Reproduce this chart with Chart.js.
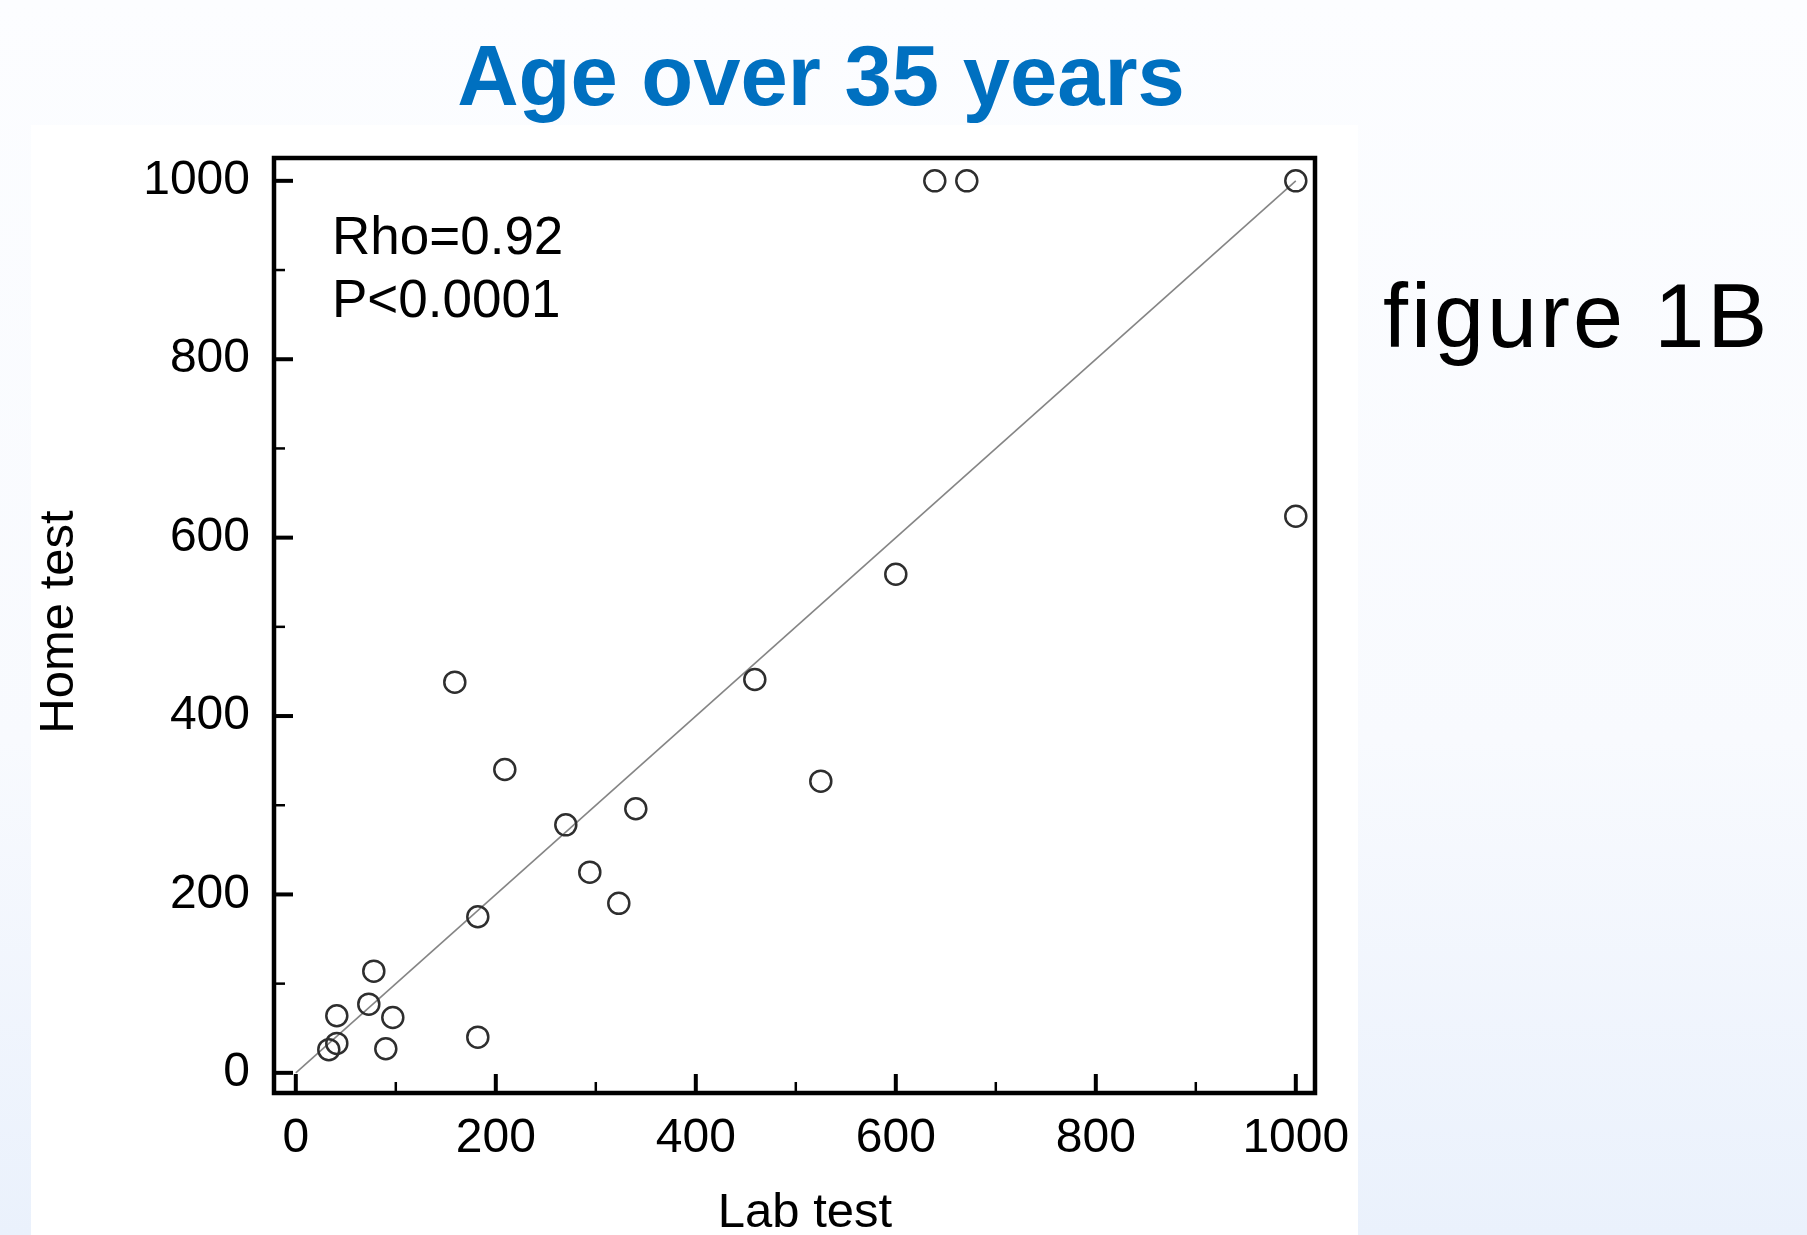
<!DOCTYPE html>
<html>
<head>
<meta charset="utf-8">
<title>Age over 35 years</title>
<script src="https://cdn.jsdelivr.net/npm/chart.js@4.4.1/dist/chart.umd.min.js"></script>
<style>
  html, body { margin: 0; padding: 0; }
  body { width: 1807px; height: 1235px; overflow: hidden; background: #fcfdff; }
  #wrap { position: relative; width: 1807px; height: 1235px; }
</style>
</head>
<body>
<div id="wrap"><canvas id="chart" width="1807" height="1235"></canvas></div>
<script>
const FONT = '"Liberation Sans", Arial, Helvetica, sans-serif';

// one entry per subject: lab result (x) and home result (y)
const labTest  = [639, 671, 1000, 1000, 600, 459, 159, 209, 525, 270, 340, 294, 323, 182, 78, 73, 41, 97, 41, 33, 90, 182];
const homeTest = [1000, 1000, 1000, 624, 559, 441, 438, 340, 327, 278, 296, 225, 190, 175, 114, 77, 64, 62, 33, 26, 27, 40];

// line of identity
const fitX = [0, 1000];
const fitY = [0, 1000];

const majorTicks = [0, 200, 400, 600, 800, 1000];
const minorTicks = [100, 300, 500, 700, 900];

const chartTitle = 'Age over 35 years';
const figureLabel = 'figure 1B';
const statsLines = ['Rho=0.92', 'P<0.0001'];
const xTitle = 'Lab test';
const yTitle = 'Home test';

// background, panel, titles, frame and inward ticks
const decor = {
  id: 'decor',
  beforeDraw(chart) {
    const ctx = chart.ctx;
    ctx.save();
    const g = ctx.createLinearGradient(0, 0, 0, chart.height);
    g.addColorStop(0, '#fcfdff');
    g.addColorStop(0.6, '#f8fafe');
    g.addColorStop(1, '#eaf1fc');
    ctx.fillStyle = g;
    ctx.fillRect(0, 0, chart.width, chart.height);
    ctx.fillStyle = '#ffffff';
    ctx.fillRect(31, 125, 1327, chart.height - 125);

    ctx.fillStyle = '#0070c0';
    ctx.font = 'bold 85px ' + FONT;
    ctx.textAlign = 'center';
    ctx.textBaseline = 'alphabetic';
    ctx.fillText(chartTitle, 821, 105);

    ctx.fillStyle = '#000';
    ctx.font = '90px ' + FONT;
    ctx.textAlign = 'left';
    ctx.letterSpacing = '3px';
    ctx.fillText(figureLabel, 1383, 347);
    ctx.letterSpacing = '0px';
    ctx.restore();
  },
  afterDraw(chart) {
    const ctx = chart.ctx;
    const a = chart.chartArea;
    const xs = chart.scales.x, ys = chart.scales.y;
    ctx.save();
    ctx.strokeStyle = '#000';
    ctx.lineWidth = 4.5;
    ctx.strokeRect(a.left, a.top, a.right - a.left, a.bottom - a.top);

    function tick(x1, y1, x2, y2, w) {
      ctx.lineWidth = w;
      ctx.beginPath(); ctx.moveTo(x1, y1); ctx.lineTo(x2, y2); ctx.stroke();
    }
    majorTicks.forEach(v => {
      const px = xs.getPixelForValue(v);
      tick(px, a.bottom, px, a.bottom - 19, 4);
      const py = ys.getPixelForValue(v);
      tick(a.left, py, a.left + 19, py, 4);
    });
    minorTicks.forEach(v => {
      const px = xs.getPixelForValue(v);
      tick(px, a.bottom, px, a.bottom - 11, 2.5);
      const py = ys.getPixelForValue(v);
      tick(a.left, py, a.left + 11, py, 2.5);
    });

    ctx.fillStyle = '#000';
    ctx.font = '53px ' + FONT;
    ctx.textAlign = 'left';
    ctx.textBaseline = 'alphabetic';
    ctx.fillText(statsLines[0], 332, 254);
    ctx.fillText(statsLines[1], 332, 317);

    ctx.font = '49px ' + FONT;
    ctx.textAlign = 'center';
    ctx.fillText(xTitle, 805, 1227);

    ctx.translate(59, 622);
    ctx.rotate(-Math.PI / 2);
    ctx.textBaseline = 'middle';
    ctx.fillText(yTitle, 0, 0);
    ctx.restore();
  }
};

const fixTicks = scale => { scale.ticks = majorTicks.map(v => ({ value: v })); };
const plainLabel = v => String(v);

new Chart(document.getElementById('chart'), {
  type: 'scatter',
  data: {
    datasets: [
      {
        type: 'line',
        data: fitX.map((x, i) => ({ x, y: fitY[i] })),
        borderColor: '#858585',
        borderWidth: 1.6,
        pointRadius: 0,
        fill: false,
        order: 2
      },
      {
        data: labTest.map((x, i) => ({ x, y: homeTest[i] })),
        pointStyle: 'circle',
        pointRadius: 10.5,
        pointBorderWidth: 2.5,
        pointBorderColor: '#2e2e2e',
        pointBackgroundColor: 'rgba(0,0,0,0)',
        order: 1
      }
    ]
  },
  options: {
    responsive: false,
    animation: false,
    devicePixelRatio: 1,
    layout: { padding: { left: 0, top: 158, right: 492, bottom: 0 } },
    plugins: { legend: { display: false }, tooltip: { enabled: false }, title: { display: false } },
    scales: {
      x: {
        type: 'linear',
        min: -21.8,
        max: 1019.2,
        afterBuildTicks: fixTicks,
        afterFit: s => { s.height = 142; },
        grid: { display: false, drawTicks: false },
        border: { display: false },
        ticks: { color: '#000', padding: 17, font: { family: FONT, size: 48 }, maxRotation: 0, callback: plainLabel }
      },
      y: {
        type: 'linear',
        min: -22.6,
        max: 1025.6,
        afterBuildTicks: fixTicks,
        afterFit: s => { s.width = 274; },
        grid: { display: false, drawTicks: false },
        border: { display: false },
        ticks: { color: '#000', padding: 24, font: { family: FONT, size: 48 }, callback: plainLabel }
      }
    }
  },
  plugins: [decor]
});
</script>
</body>
</html>
